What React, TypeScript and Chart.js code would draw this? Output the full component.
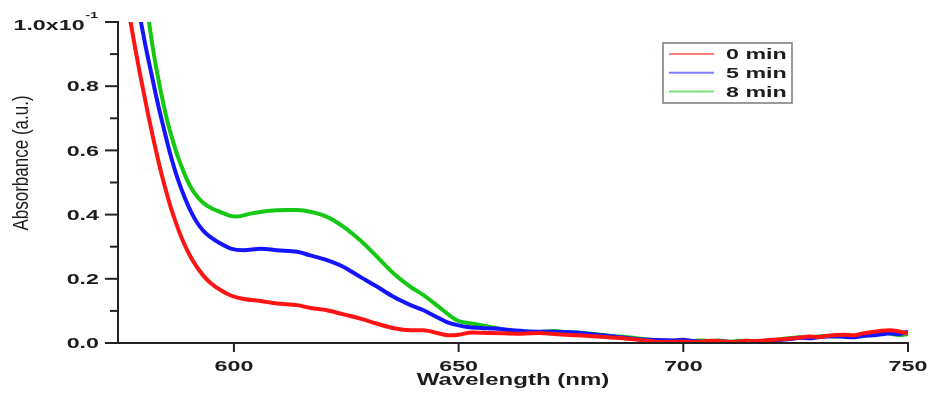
import { useEffect, useRef } from 'react';
import { Chart, registerables } from 'chart.js';

Chart.register(...registerables);

// Absorbance spectra recorded at three reaction times
const seriesLabels = ['0 min', '5 min', '8 min'];
const seriesColors = ['#ff1414', '#1414ff', '#14c814'];

const wl0 = [576.5, 577, 578, 579, 580, 581, 582, 583, 584, 585, 586, 587, 588, 589, 590, 591, 592, 593, 594.8, 597, 599.3, 602.2, 605.9, 609.6, 614.1, 617, 620.7, 624.4, 628.1, 631.9, 635.6, 639.3, 642.2, 645, 648, 650, 653, 657, 660, 664, 668, 672, 676, 680, 684, 687, 690, 692, 694, 697, 700, 702, 704, 706, 708, 710, 712, 714, 716, 718, 720, 722, 724, 726, 728, 730, 732, 734, 736, 738, 740, 742, 743, 744, 746, 748, 750];
const abs0 = [1.04, 1.0, 0.92, 0.845, 0.775, 0.705, 0.64, 0.578, 0.52, 0.468, 0.42, 0.378, 0.34, 0.307, 0.278, 0.253, 0.232, 0.213, 0.187, 0.165, 0.148, 0.137, 0.131, 0.123, 0.118, 0.109, 0.102, 0.089, 0.076, 0.06, 0.046, 0.04, 0.04, 0.032, 0.024, 0.026, 0.033, 0.031, 0.03, 0.029, 0.031, 0.027, 0.024, 0.021, 0.017, 0.014, 0.01, 0.007, 0.004, 0.003, 0.005, 0.003, 0.004, 0.007, 0.006, 0.003, 0.004, 0.007, 0.006, 0.008, 0.01, 0.012, 0.014, 0.017, 0.02, 0.019, 0.022, 0.025, 0.026, 0.024, 0.03, 0.034, 0.036, 0.038, 0.04, 0.036, 0.03];

const wl5 = [578.8, 579.3, 580.4, 581.5, 582.6, 583.7, 584.8, 585.9, 587.4, 588.9, 590.4, 591.9, 593.3, 594.8, 597, 599.3, 602.2, 605.9, 609.6, 614.1, 617, 620.7, 624.4, 628.1, 631.9, 635.6, 639.3, 642.2, 645, 647.4, 650, 652, 655, 658, 662, 666, 670, 674, 678, 682, 686, 690, 694, 698, 700, 702, 704, 706, 708, 710, 712, 714, 716, 718, 720, 722, 724, 726, 728, 730, 732, 734, 736, 738, 740, 742, 744, 746, 748, 750];
const abs5 = [1.04, 1.0, 0.92, 0.848, 0.775, 0.708, 0.645, 0.585, 0.515, 0.458, 0.41, 0.373, 0.348, 0.33, 0.31, 0.294, 0.289, 0.294, 0.289, 0.284, 0.273, 0.258, 0.237, 0.206, 0.175, 0.143, 0.118, 0.102, 0.082, 0.065, 0.055, 0.05, 0.047, 0.045, 0.04, 0.036, 0.035, 0.034, 0.03, 0.024, 0.018, 0.012, 0.009, 0.008, 0.01, 0.006, 0.004, 0.003, 0.005, 0.004, 0.002, 0.002, 0.004, 0.003, 0.006, 0.01, 0.013, 0.016, 0.015, 0.018, 0.02, 0.021, 0.019, 0.018, 0.022, 0.024, 0.027, 0.03, 0.028, 0.035];

const wl8 = [580.7, 581.1, 582, 583, 584, 585.2, 586.3, 587.4, 588.9, 590.4, 591.9, 593.3, 595, 597, 599, 600.7, 603.7, 607.4, 611.9, 614.1, 617, 620.7, 624.4, 628.1, 631.9, 635.6, 639.3, 642.2, 646, 649.6, 653.3, 657, 660.8, 664, 668, 671, 674, 677, 680, 684, 687, 690, 694, 698, 700, 702, 704, 706, 708, 710, 712, 714, 716, 718, 720, 722, 724, 726, 728, 730, 732, 734, 736, 738, 740, 742, 744, 745, 746, 748, 750];
const abs8 = [1.04, 1.0, 0.915, 0.835, 0.765, 0.69, 0.635, 0.585, 0.53, 0.485, 0.455, 0.435, 0.42, 0.408, 0.397, 0.394, 0.403, 0.411, 0.414, 0.414, 0.409, 0.393, 0.362, 0.32, 0.268, 0.216, 0.175, 0.149, 0.108, 0.071, 0.06, 0.05, 0.04, 0.036, 0.034, 0.037, 0.034, 0.032, 0.028, 0.022, 0.019, 0.014, 0.008, 0.006, 0.004, 0.006, 0.008, 0.006, 0.008, 0.004, 0.006, 0.007, 0.005, 0.006, 0.009, 0.012, 0.016, 0.018, 0.017, 0.02, 0.022, 0.02, 0.022, 0.02, 0.024, 0.026, 0.03, 0.032, 0.029, 0.025, 0.028];

const xTicks = [600, 650, 700, 750];
const yMajor = [0, 0.2, 0.4, 0.6, 0.8, 1.0];
const yMajorLabels = ['0.0', '0.2', '0.4', '0.6', '0.8', '1.0x10'];
const yMinor = [0.1, 0.3, 0.5, 0.7, 0.9];
const xRange = [574.2, 750];
const yRange = [0, 1.0];

const textColor = '#1c1c1c';
const STRETCH = 1.55;

function wideText(
  ctx: CanvasRenderingContext2D,
  text: string,
  x: number,
  y: number,
  align: CanvasTextAlign,
  font: string,
  sx = STRETCH
) {
  ctx.save();
  ctx.font = font;
  ctx.fillStyle = textColor;
  ctx.textBaseline = 'middle';
  ctx.textAlign = align;
  ctx.translate(x, y);
  ctx.scale(sx, 1);
  ctx.fillText(text, 0, 0);
  ctx.restore();
}

const axesPlugin = {
  id: 'spectrumAxes',
  afterDatasetsDraw(chart: any) {
    const ctx: CanvasRenderingContext2D = chart.ctx;
    const xs = chart.scales.x;
    const ys = chart.scales.y;
    const left = xs.left;
    const bottom = ys.bottom;
    const top = ys.top;
    const right = xs.right;

    ctx.save();
    ctx.strokeStyle = '#222';
    ctx.lineWidth = 2;
    ctx.lineCap = 'square';
    // axis lines
    ctx.beginPath();
    ctx.moveTo(left, top);
    ctx.lineTo(left, bottom);
    ctx.lineTo(right, bottom);
    ctx.stroke();
    // y ticks
    yMajor.forEach((v) => {
      const py = ys.getPixelForValue(v);
      ctx.beginPath();
      ctx.moveTo(left - 12, py);
      ctx.lineTo(left, py);
      ctx.stroke();
    });
    yMinor.forEach((v) => {
      const py = ys.getPixelForValue(v);
      ctx.beginPath();
      ctx.moveTo(left - 7, py);
      ctx.lineTo(left, py);
      ctx.stroke();
    });
    // x ticks
    xTicks.forEach((v) => {
      const px = xs.getPixelForValue(v);
      ctx.beginPath();
      ctx.moveTo(px, bottom);
      ctx.lineTo(px, bottom + 8);
      ctx.stroke();
    });
    ctx.restore();

    const tickFont = 'bold 15px "Liberation Sans", Arial, sans-serif';
    yMajor.forEach((v, i) => {
      const py = ys.getPixelForValue(v);
      if (i === yMajor.length - 1) {
        // "1.0x10" with a superscript exponent
        const supFont = 'bold 9px "Liberation Sans", Arial, sans-serif';
        ctx.save();
        ctx.font = supFont;
        const supW = ctx.measureText('-1').width * STRETCH;
        ctx.restore();
        wideText(ctx, '-1', left - 20, py - 6, 'right', supFont);
        wideText(ctx, yMajorLabels[i], left - 20 - supW - 1, py + 4, 'right', tickFont);
      } else {
        wideText(ctx, yMajorLabels[i], left - 19, py + 1, 'right', tickFont);
      }
    });
    xTicks.forEach((v) => {
      const px = xs.getPixelForValue(v);
      wideText(ctx, String(v), px, bottom + 24, 'center', tickFont);
    });

    // axis titles
    wideText(
      ctx,
      'Wavelength (nm)',
      (left + right) / 2,
      bottom + 38,
      'center',
      'bold 16px "Liberation Sans", Arial, sans-serif',
      1.5
    );
    ctx.save();
    ctx.font = '17px "Liberation Sans", Arial, sans-serif';
    ctx.fillStyle = textColor;
    ctx.textAlign = 'center';
    ctx.textBaseline = 'middle';
    ctx.translate(22, 163);
    ctx.rotate(-Math.PI / 2);
    ctx.scale(1, 1.25);
    ctx.fillText('Absorbance (a.u.)', 0, 0);
    ctx.restore();

    // legend box
    const bx = 663;
    const by = 43;
    const bw = 129;
    const bh = 60;
    ctx.save();
    ctx.strokeStyle = '#7a7a7a';
    ctx.lineWidth = 1.5;
    ctx.strokeRect(bx, by, bw, bh);
    chart.data.datasets.forEach((ds: any, i: number) => {
      const ry = 54 + i * 18.8;
      ctx.strokeStyle = ds.borderColor;
      ctx.globalAlpha = 0.55;
      ctx.lineWidth = 2;
      ctx.beginPath();
      ctx.moveTo(669, ry);
      ctx.lineTo(714, ry);
      ctx.stroke();
      ctx.globalAlpha = 1;
      wideText(ctx, ds.label, 726, ry + 1, 'left', 'bold 15px "Liberation Sans", Arial, sans-serif');
    });
    ctx.restore();
  },
};

function toPoints(xs: number[], ys: number[]) {
  return xs.map((x, i) => ({ x, y: ys[i] }));
}

export default function App() {
  const canvasRef = useRef<HTMLCanvasElement | null>(null);

  useEffect(() => {
    const canvas = canvasRef.current;
    if (!canvas) return;
    const series = [
      toPoints(wl0, abs0),
      toPoints(wl5, abs5),
      toPoints(wl8, abs8),
    ];
    const chart = new Chart(canvas, {
      type: 'line',
      data: {
        datasets: series.map((pts, i) => ({
          label: seriesLabels[i],
          data: pts,
          borderColor: seriesColors[i],
          backgroundColor: seriesColors[i],
          borderWidth: 4,
          pointRadius: 0,
          cubicInterpolationMode: 'monotone' as const,
          fill: false,
        })),
      },
      options: {
        responsive: false,
        animation: false,
        devicePixelRatio: 1,
        layout: { padding: { top: 22, right: 22, left: 0, bottom: 0 } },
        plugins: {
          legend: { display: false },
          tooltip: { enabled: false },
        },
        scales: {
          x: {
            type: 'linear',
            min: xRange[0],
            max: xRange[1],
            grid: { display: false },
            border: { display: false },
            ticks: { display: false },
            afterFit: (s: any) => {
              s.height = 50;
            },
          },
          y: {
            type: 'linear',
            min: yRange[0],
            max: yRange[1],
            grid: { display: false },
            border: { display: false },
            ticks: { display: false },
            afterFit: (s: any) => {
              s.width = 118;
            },
          },
        },
      },
      plugins: [axesPlugin],
    });
    return () => chart.destroy();
  }, []);

  return (
    <div style={{ position: 'fixed', left: 0, top: 0, width: 930, height: 393, background: '#fff' }}>
      <canvas ref={canvasRef} width={930} height={393} />
    </div>
  );
}
